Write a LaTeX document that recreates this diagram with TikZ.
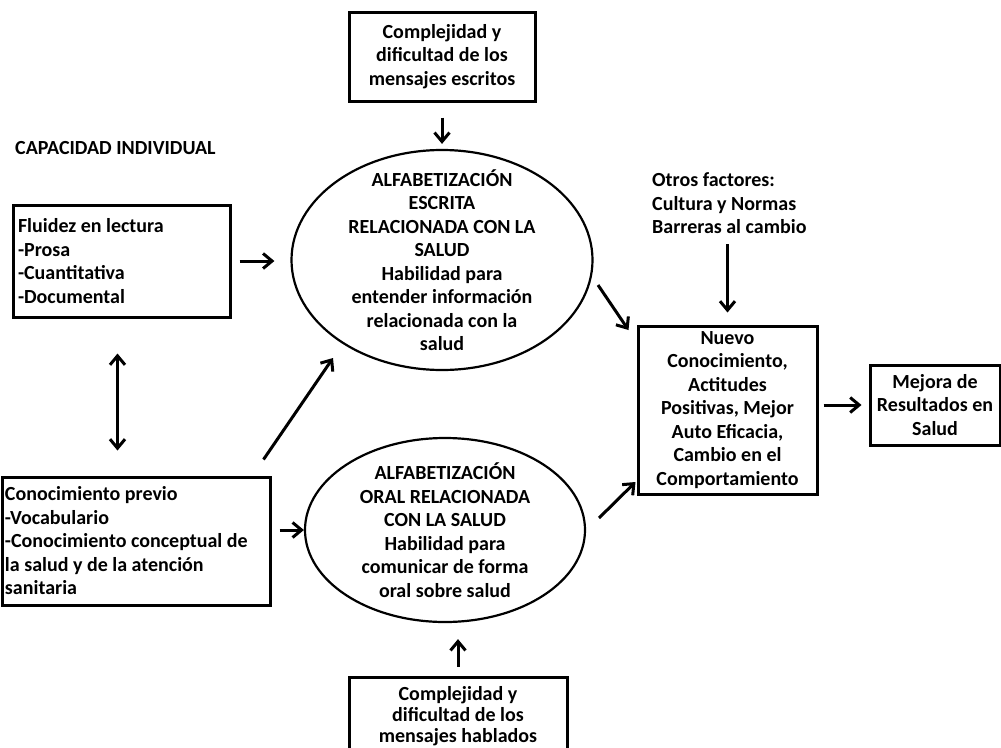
\documentclass[tikz,border=0pt]{standalone}
\usepackage{fontspec}
\setmainfont{Carlito}
\usetikzlibrary{shapes.geometric,arrows.meta}
\begin{document}
\begin{tikzpicture}[x=1pt,y=-1pt,
  every node/.style={font=\bfseries\fontsize{20}{23.5}\selectfont},
  caja/.style={draw,line width=3pt,inner sep=0pt},
  elipse/.style={draw,ellipse,line width=2.2pt,inner xsep=0pt,inner ysep=-40pt,align=center},
  punta/.tip={Straight Barb[length=9pt,width=15pt]},
  flecha/.style={-punta,line width=3pt}]
  \clip (0,0) rectangle (1001,747);
  % cajas de arriba y abajo
  \node[caja,align=center,minimum width=186,minimum height=89] (escr) at (442,56.5) {Complejidad y\\dificultad de los\\mensajes escritos};
  \node[caja,align=center,minimum width=218,minimum height=78,font=\bfseries\fontsize{20}{21}\selectfont] (habl) at (458,716) {Complejidad y\\dificultad de los\\mensajes hablados};
  % capacidad individual
  \node[anchor=west,inner sep=0pt] (capa) at (15,148) {CAPACIDAD INDIVIDUAL};
  \node[caja,align=flush left,text width=207,inner xsep=5pt,minimum height=112] (flu) at (121.5,261) {Fluidez en lectura\\-Prosa\\-Cuantitativa\\-Documental};
  \node[caja,align=flush left,text width=262,inner xsep=3pt,minimum height=128] (con) at (136,541) {Conocimiento previo\\-Vocabulario\\-Conocimiento conceptual de\\la salud y de la atenci\'on\\sanitaria};
  % alfabetizacion
  \node[elipse,minimum width=301,minimum height=220] (esc) at (442,260) {ALFABETIZACI\'ON\\ESCRITA\\RELACIONADA CON LA\\SALUD\\Habilidad para\\entender informaci\'on\\relacionada con la\\salud};
  \node[elipse,minimum width=280,minimum height=184] (ora) at (445,530) {ALFABETIZACI\'ON\\ORAL RELACIONADA\\CON LA SALUD\\Habilidad para\\comunicar de forma\\oral sobre salud};
  % resultados
  \node[anchor=west,align=flush left,inner sep=0pt] (otr) at (652,203.5) {Otros factores:\\Cultura y Normas\\Barreras al cambio};
  \node[caja,align=center,minimum width=179,minimum height=168] (nue) at (727.5,410) {Nuevo\\Conocimiento,\\Actitudes\\Positivas, Mejor\\Auto Eficacia,\\Cambio en el\\Comportamiento};
  \node[caja,align=center,minimum width=130,minimum height=80] (mej) at (935,405) {Mejora de\\Resultados en\\Salud};

  \draw[flecha,shorten <=15pt,shorten >=5pt] (escr) -- (esc);
  \draw[flecha,shorten <=9pt,shorten >=16pt] (habl.north) -- (habl.north |- ora.south);
  \draw[flecha,shorten <=8pt,shorten >=16pt] (flu.east) -- (flu.east -| esc.west);
  \draw[punta-punta,line width=3pt,shorten <=35pt,shorten >=25pt] ([xshift=-4pt]flu.south) -- ([xshift=-4pt]flu.south |- con.north);
  \draw[flecha] ([shift={(-8,-16)}]con.north east) -- ([shift={(-109,98)}]esc.center);
  \draw[flecha,shorten <=8pt] (con.east |- ora.west) -- (ora.west);
  \draw[flecha] ([shift={(156,25)}]esc.center) -- ([shift={(-8,-80)}]nue.west);
  \draw[flecha] ([shift={(154,-12)}]ora.center) -- ([shift={(-1,72)}]nue.west);
  \draw[flecha,shorten <=10pt,shorten >=12pt] (otr.south -| nue.north) -- (nue.north);
  \draw[flecha,shorten <=5pt,shorten >=7pt] (nue.east |- mej.west) -- (mej.west);
\end{tikzpicture}
\end{document}
